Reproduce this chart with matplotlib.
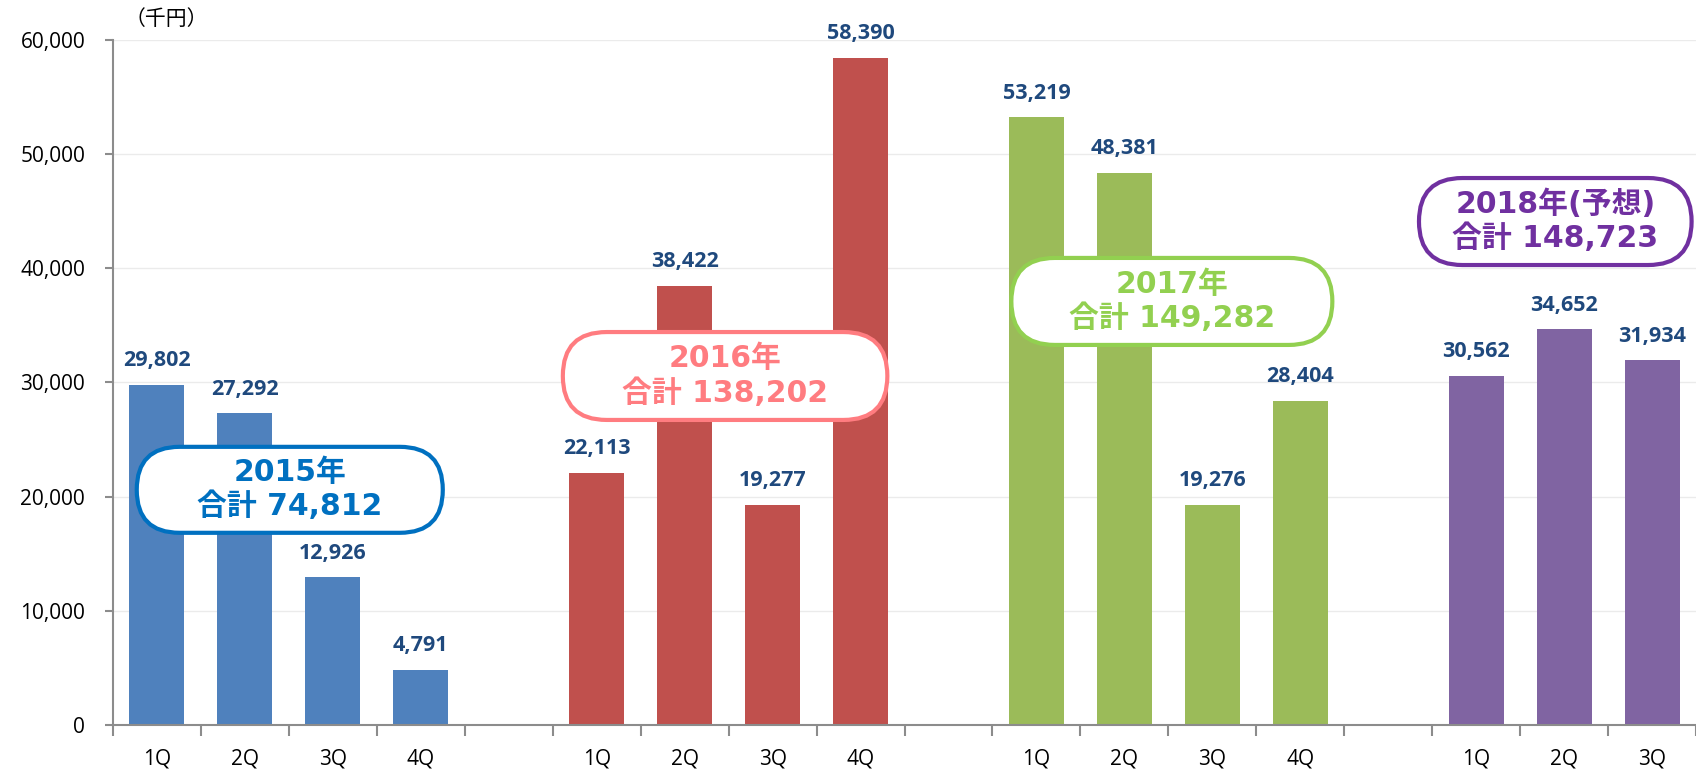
import matplotlib.pyplot as plt
from matplotlib.patches import FancyBboxPatch
from matplotlib.ticker import FuncFormatter, FixedLocator

plt.rcParams['font.family'] = ['Open Sans', 'Noto Sans CJK JP', 'DejaVu Sans']

# data
quarters = ["1Q", "2Q", "3Q", "4Q"]
sales_2015 = [29802, 27292, 12926, 4791]
sales_2016 = [22113, 38422, 19277, 58390]
sales_2017 = [53219, 48381, 19276, 28404]
sales_2018 = [30562, 34652, 31934]
totals = ["2015年\n合計 74,812", "2016年\n合計 138,202",
          "2017年\n合計 149,282", "2018年(予想)\n合計 148,723"]

bar_colors = ["#4F81BD", "#C0504D", "#9BBB59", "#8064A2"]
box_colors = ["#0070C0", "#FF7C80", "#92D050", "#7030A0"]
# total boxes: center x (slots), center y (data), width (slots), height (data)
box_x = [1.51, 6.46, 11.54, 15.90]
box_y = [20600, 30570, 37100, 44100]
box_w = [3.48, 3.69, 3.65, 3.10]
box_h = [7530, 7700, 7620, 7620]

W, H = 1696, 773
fig = plt.figure(figsize=(W / 100, H / 100), dpi=100)
ax = fig.add_axes([113 / W, 48 / H, 1 - 113 / W, (725 - 40) / H])

series = [sales_2015, sales_2016, sales_2017, sales_2018]
tick_pos = []
tick_lab = []
start = 0
for k, vals in enumerate(series):
    xs = [start + i for i in range(len(vals))]
    ax.bar(xs, vals, width=0.625, color=bar_colors[k], zorder=2)
    for x, v in zip(xs, vals):
        ax.annotate(f"{v:,}", (x, v), xytext=(0, 10), textcoords="offset points",
                    ha="center", va="bottom", fontsize=15.5, fontweight="bold",
                    color="#1F497D", zorder=3)
    tick_pos += xs
    tick_lab += quarters[:len(vals)]
    start += 5

# y-data per x-data for equal pixel scaling (88 px per slot, 685 px per 60000)
aspect = (60000 / 685) * 88
for i in range(4):
    hx = box_h[i] / aspect
    box = FancyBboxPatch((box_x[i] - box_w[i] / 2, box_y[i] - box_h[i] / 2),
                         box_w[i], box_h[i],
                         boxstyle=f"round,pad=0,rounding_size={hx / 2:.3f}",
                         mutation_aspect=aspect, fc="white", ec=box_colors[i],
                         lw=3, zorder=4, clip_on=False)
    ax.add_patch(box)
    ax.text(box_x[i], box_y[i], totals[i], ha="center", va="center",
            fontsize=21.5, fontweight="bold", color=box_colors[i],
            family=['DejaVu Sans', 'Noto Sans CJK JP'],
            linespacing=1.2, zorder=5)

ax.set_xlim(-0.5, 17.5)
ax.set_ylim(0, 60000)
ax.set_yticks(range(0, 60001, 10000))
ax.yaxis.set_major_formatter(FuncFormatter(lambda v, p: f"{int(v):,}"))
ax.set_xticks(tick_pos)
ax.set_xticklabels(tick_lab)
ax.xaxis.set_minor_locator(FixedLocator([i - 0.5 for i in range(19)]))
ax.tick_params(axis="x", which="major", length=0, pad=17, labelsize=15)
ax.tick_params(axis="x", which="minor", length=8, width=1.5, color="#8C8C8C",
               direction="out")
ax.tick_params(axis="y", length=6, width=1.5, color="#8C8C8C", pad=14,
               labelsize=15)
ax.grid(axis="y", color="#EBEBEB", lw=1, zorder=0)
ax.set_axisbelow(True)
for s in ["top", "right"]:
    ax.spines[s].set_visible(False)
for s in ["left", "bottom"]:
    ax.spines[s].set_color("#8C8C8C")
    ax.spines[s].set_linewidth(1.5)

fig.text(166 / W, 1 - 19 / H, "（千円）", ha="center", va="center", fontsize=15,
         family=['Noto Sans CJK JP', 'DejaVu Sans'])

fig.savefig("out.png", dpi=100)
